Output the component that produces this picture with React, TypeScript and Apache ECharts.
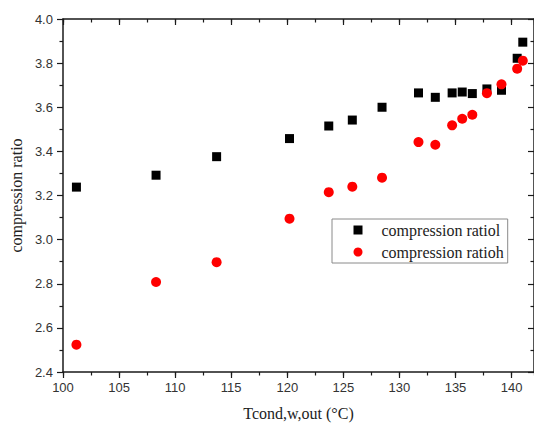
import React, { useEffect, useRef } from "react";
import * as echarts from "echarts";

const tempOut = [101.2, 108.3, 113.7, 120.2, 123.7, 125.8, 128.45, 131.7, 133.2, 134.7, 135.6, 136.5, 137.8, 139.1, 140.5, 141.0];
const ratioL = [3.238, 3.292, 3.376, 3.458, 3.515, 3.542, 3.600, 3.665, 3.645, 3.665, 3.669, 3.662, 3.683, 3.677, 3.822, 3.895];
const ratioH = [2.524, 2.808, 2.898, 3.095, 3.215, 3.240, 3.281, 3.442, 3.430, 3.518, 3.548, 3.566, 3.664, 3.704, 3.775, 3.811];
const seriesNames = ["compression ratiol", "compression ratioh"];

const serif = "'Liberation Serif', 'Times New Roman', serif";
const sans = "'Liberation Sans', Arial, sans-serif";
const axisColor = "#1a1a1a";

export default function App() {
  const ref = useRef<HTMLDivElement>(null);
  useEffect(() => {
    if (!ref.current) return;
    const chart = echarts.init(ref.current, undefined, { renderer: "svg" });
    const baseX = {
      type: "value",
      min: 100,
      max: 142,
      gridIndex: 0,
      splitLine: { show: false },
    };
    chart.setOption({
      animation: false,
      backgroundColor: "#ffffff",
      grid: { left: 61.5, top: 19, bottom: 55, right: -2, containLabel: false },
      legend: {
        left: 332,
        top: 219,
        orient: "vertical",
        borderColor: "#8a8a8a",
        borderWidth: 1,
        padding: [3, 4, 3, 21.5],
        itemWidth: 9,
        itemHeight: 9,
        itemGap: 6,
        backgroundColor: "#ffffff",
        textStyle: { fontFamily: serif, fontSize: 16, color: "#222", lineHeight: 16, padding: [0, 0, 0, 14] },
        data: [
          { name: seriesNames[0], icon: "rect" },
          { name: seriesNames[1], icon: "circle" },
        ],
      },
      xAxis: [
        {
          ...baseX,
          position: "bottom",
          interval: 5,
          name: "Tcond,w,out (°C)",
          nameLocation: "middle",
          nameGap: 33,
          nameTextStyle: { fontFamily: serif, fontSize: 16, color: "#222" },
          axisLine: { show: true, onZero: false, lineStyle: { color: axisColor, width: 1.5 } },
          axisTick: { show: true, inside: false, length: 6, lineStyle: { color: axisColor, width: 1.2 } },
          axisLabel: { show: true, margin: 9, fontFamily: sans, fontSize: 13, color: "#333", showMaxLabel: false },
        },
        {
          ...baseX,
          position: "bottom",
          interval: 2.5,
          axisLine: { show: false, onZero: false },
          axisTick: { show: true, inside: false, length: 3.5, lineStyle: { color: axisColor, width: 1.2 } },
          axisLabel: { show: false },
        },
        {
          ...baseX,
          position: "top",
          interval: 5,
          axisLine: { show: true, onZero: false, lineStyle: { color: axisColor, width: 1.5 } },
          axisTick: { show: true, inside: true, length: 6, lineStyle: { color: axisColor, width: 1.2 } },
          axisLabel: { show: false },
        },
        {
          ...baseX,
          position: "top",
          interval: 2.5,
          axisLine: { show: false, onZero: false },
          axisTick: { show: true, inside: true, length: 3.5, lineStyle: { color: axisColor, width: 1.2 } },
          axisLabel: { show: false },
        },
      ],
      yAxis: [
        {
          type: "value",
          position: "left",
          min: 2.4,
          max: 4.0,
          interval: 0.2,
          name: "compression ratio",
          nameLocation: "middle",
          nameGap: 38,
          nameTextStyle: { fontFamily: serif, fontSize: 16, color: "#222" },
          splitLine: { show: false },
          axisLine: { show: true, onZero: false, lineStyle: { color: axisColor, width: 1.5 } },
          axisTick: { show: true, inside: false, length: 6, lineStyle: { color: axisColor, width: 1.2 } },
          minorTick: { show: true, splitNumber: 2, length: 3.5, lineStyle: { color: axisColor, width: 1.2 } },
          axisLabel: {
            show: true,
            margin: 10,
            fontFamily: sans,
            fontSize: 13,
            color: "#333",
            formatter: (v: number) => v.toFixed(1),
          },
        },
        {
          type: "value",
          position: "right",
          min: 2.4,
          max: 4.0,
          interval: 0.2,
          splitLine: { show: false },
          axisLine: { show: true, onZero: false, lineStyle: { color: axisColor, width: 1.5 } },
          axisTick: { show: true, inside: true, length: 6, lineStyle: { color: axisColor, width: 1.2 } },
          minorTick: { show: true, splitNumber: 2, length: 3.5, lineStyle: { color: axisColor, width: 1.2 } },
          axisLabel: { show: false },
        },
      ],
      series: [
        {
          name: seriesNames[0],
          type: "scatter",
          xAxisIndex: 0,
          yAxisIndex: 0,
          symbol: "rect",
          symbolSize: 9,
          itemStyle: { color: "#000000", opacity: 1 },
          data: tempOut.map((x, i) => [x, ratioL[i]]),
        },
        {
          name: seriesNames[1],
          type: "scatter",
          xAxisIndex: 0,
          yAxisIndex: 0,
          symbol: "circle",
          symbolSize: 10,
          itemStyle: { color: "#ff0000", opacity: 1 },
          data: tempOut.map((x, i) => [x, ratioH[i]]),
        },
      ],
    });
    return () => chart.dispose();
  }, []);
  return <div ref={ref} style={{ width: 534, height: 427, position: "absolute", left: 0, top: 0 }} />;
}
